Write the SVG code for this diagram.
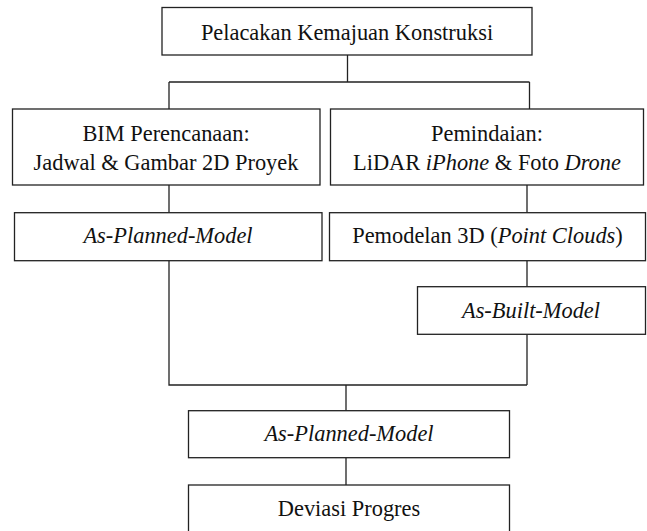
<svg xmlns="http://www.w3.org/2000/svg" width="647" height="531" viewBox="0 0 647 531">
<style>
.box{fill:#fff;stroke:#222;stroke-width:1.3}
.ln{fill:none;stroke:#222;stroke-width:1.3}
text{font-family:'Liberation Serif','DejaVu Serif',serif;font-size:22.4px;fill:#111;text-anchor:middle}
.i{font-style:italic}
</style>
<rect width="647" height="531" fill="#fff"/>
<g id="connectors">
<path class="ln" d="M347.5 55V82M169 82H529.5M169 82V109M529.5 82V109"/>
<path class="ln" d="M169 185V212.7M527 185V212.7"/>
<path class="ln" d="M169 260.7V385H527M527 260.7V286.7M527 334.3V385"/>
<path class="ln" d="M346 385V410.7M346 457.7V485"/>
</g>
<g id="n1"><rect class="box" x="162" y="7.5" width="370" height="47.5"/><text x="347" y="39.5">Pelacakan Kemajuan Konstruksi</text></g>
<g id="n2"><rect class="box" x="12.5" y="109" width="307.5" height="76"/><text x="166" y="140.5">BIM Perencanaan:</text><text x="166" y="170">Jadwal &amp; Gambar 2D Proyek</text></g>
<g id="n3"><rect class="box" x="330.5" y="109" width="313" height="76"/><text x="487" y="140.5">Pemindaian:</text><text x="487" y="170">LiDAR <tspan class="i">iPhone</tspan> &amp; Foto <tspan class="i">Drone</tspan></text></g>
<g id="n4"><rect class="box" x="14.5" y="212.7" width="307.5" height="48"/><text class="i" x="168" y="243">As-Planned-Model</text></g>
<g id="n5"><rect class="box" x="329.5" y="212.7" width="316" height="48"/><text x="487.5" y="243">Pemodelan 3D (<tspan class="i">Point Clouds</tspan>)</text></g>
<g id="n6"><rect class="box" x="417.5" y="286.7" width="228" height="47.6"/><text class="i" x="531" y="318">As-Built-Model</text></g>
<g id="n7"><rect class="box" x="188.5" y="410.7" width="321" height="47"/><text class="i" x="349" y="441">As-Planned-Model</text></g>
<g id="n8"><rect class="box" x="188.5" y="485" width="321" height="56"/><text x="349" y="516">Deviasi Progres</text></g>
</svg>
